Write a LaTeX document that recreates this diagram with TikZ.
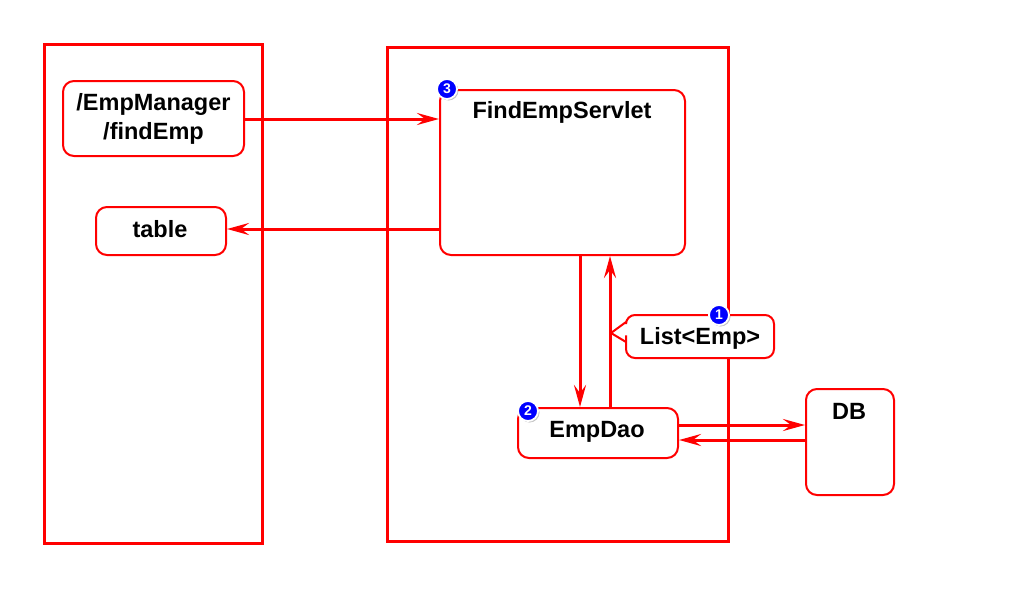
\documentclass[tikz,border=0pt]{standalone}
\usepackage{fontspec}
\setmainfont{Liberation Sans}
\usetikzlibrary{arrows.meta,shadows}
\begin{document}
\begin{tikzpicture}[x=1pt,y=-1pt,
  frame/.style={draw=red,line width=3pt},
  rbox/.style={draw=red,line width=2pt,rounded corners=11pt,fill=white},
  lbl/.style={font=\bfseries\fontsize{23.5}{29}\selectfont,align=center,inner sep=0pt},
  conn/.style={draw=red,line width=3pt,-{Stealth[length=22pt,width=12pt,inset=8pt]}},
  badge/.style={circle,fill=blue,draw=white,line width=1.8pt,inner sep=0pt,minimum size=20pt,
     text=white,font=\bfseries\fontsize{14}{14}\selectfont,
     drop shadow={shadow xshift=1.5pt,shadow yshift=-1.5pt,opacity=0.45}}
]
\useasboundingbox (0,0) rectangle (1024,608);
\fill[white] (0,0) rectangle (1024,608);
% frames
\draw[frame] (44,44) rectangle (262,543);
\draw[frame] (387,47) rectangle (728,541);
% boxes
\node[rbox,minimum width=181pt,minimum height=75pt] (mgr) at (153.5,118.5) {};
\node[lbl] (mgrt) at (153.5,119) {/EmpManager\\/findEmp};
\node[rbox,minimum width=130pt,minimum height=48pt] (tbl) at (161,231) {};
\node[lbl] (tblt) at (160,229) {table};
\node[rbox,minimum width=245pt,minimum height=165pt] (srv) at (562.5,172.5) {};
\node[lbl] (srvt) at (562,112) {FindEmpServlet};
\node[rbox,minimum width=160pt,minimum height=50pt] (dao) at (598,433) {};
\node[lbl] (daot) at (597,432) {EmpDao};
\node[rbox,minimum width=88pt,minimum height=106pt] (db) at (850,442) {};
\node[lbl] (dbt) at (849,411) {DB};
% callout
\draw[red,line width=2pt,fill=white,rounded corners=9pt]
  (626,330) [sharp corners]-- (626,342) -- (611,333) -- (626,322) [rounded corners=9pt]
  -- (626,315) -- (774,315) -- (774,358) -- (626,358) -- cycle;
\node[lbl] (lst) at (700,338) {List<Emp>};
% connectors
\coordinate (a1) at (244,119); \coordinate (a2) at (440,119);
\draw[conn] (mgr.east |- a1) -- (srv.west |- a2);
\coordinate (b1) at (440,229);
\draw[conn] (srv.west |- b1) -- (tbl.east |- b1);
\coordinate (c1) at (580,0); \coordinate (d1) at (610,0);
\draw[conn] (srv.south -| c1) -- (dao.north -| c1);
\draw[conn] (dao.north -| d1) -- (srv.south -| d1);
\coordinate (e1) at (0,425); \coordinate (f1) at (0,440);
\draw[conn] (dao.east |- e1) -- (db.west |- e1);
\draw[conn] (db.west |- f1) -- (dao.east |- f1);
% badges
\node[badge] (b3) at (447,89) {3};
\node[badge] (b2) at (528,411) {2};
\node[badge] (b1) at (719,315) {1};
\end{tikzpicture}
\end{document}
